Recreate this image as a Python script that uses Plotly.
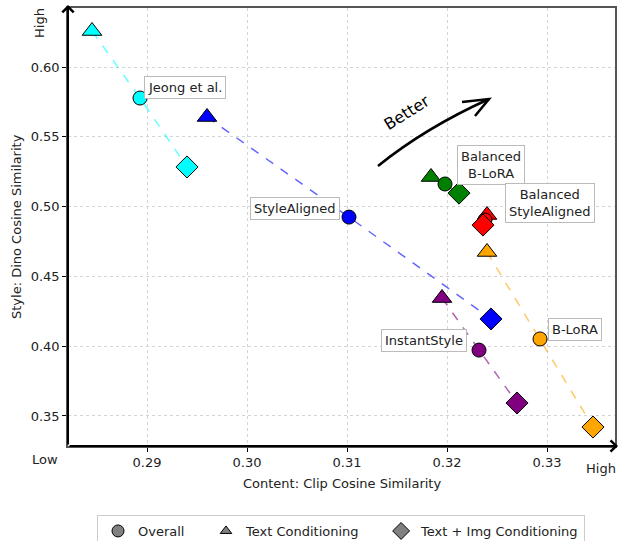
import plotly.graph_objects as go

# Per-method results: (content CLIP similarity, style DINO similarity)
methods = ["Jeong et al.", "StyleAligned", "Balanced B-LoRA", "Balanced StyleAligned", "B-LoRA", "InstantStyle"]
colors = ["#00FFFF", "#0000FF", "#008000", "#FF0000", "#FFA500", "#800080"]

text_x = [0.2845, 0.2960, 0.3184, 0.3240, 0.3240, 0.3195]
text_y = [0.6258, 0.5642, 0.5212, 0.4940, 0.4675, 0.4345]
overall_x = [0.2893, 0.3102, 0.3198, 0.3238, 0.3293, 0.3232]
overall_y = [0.5778, 0.4925, 0.5162, 0.4904, 0.4052, 0.3972]
textimg_x = [0.2940, 0.3244, 0.3212, 0.3236, 0.3346, 0.3270]
textimg_y = [0.5284, 0.4195, 0.5097, 0.4868, 0.3421, 0.3593]

# Label box centres (data coordinates)
label_x = [0.2938, 0.30475, 0.32435, 0.3303, 0.3328, 0.3177]
label_y = [0.5857, 0.4986, 0.5298, 0.5026, 0.4120, 0.4041]

legend_names = ["Overall", "Text Conditioning", "Text + Img Conditioning"]
legend_symbols = ["circle", "triangle-up", "diamond"]
legend_sizes = [12, 10, 13]

x_ticks = [0.29, 0.30, 0.31, 0.32, 0.33]
y_ticks = [0.35, 0.40, 0.45, 0.50, 0.55, 0.60]
x_range = [0.2821, 0.3368]
y_range = [0.3285, 0.6423]

FONT = "DejaVu Sans"
W, H = 619, 541
ML, MR, MT, MB = 68, 4, 8, 95
PW, PH = W - ML - MR, H - MT - MB
PAD = "\u00a0" * 4  # extra room between legend entries

fig = go.Figure()

for i, m in enumerate(methods):
    c = colors[i]
    fig.add_trace(go.Scatter(
        x=[text_x[i], overall_x[i], textimg_x[i]],
        y=[text_y[i], overall_y[i], textimg_y[i]],
        mode="lines", line=dict(color=c, width=1.5, dash="dash"),
        opacity=0.6, showlegend=False, hoverinfo="skip"))
    fig.add_trace(go.Scatter(
        x=[text_x[i]], y=[text_y[i]], mode="markers", showlegend=False,
        marker=dict(symbol="triangle-up", size=17, color=c, line=dict(color="black", width=1))))
    fig.add_trace(go.Scatter(
        x=[overall_x[i]], y=[overall_y[i]], mode="markers", showlegend=False,
        marker=dict(symbol="circle", size=14, color=c, line=dict(color="black", width=1))))
    fig.add_trace(go.Scatter(
        x=[textimg_x[i]], y=[textimg_y[i]], mode="markers", showlegend=False,
        marker=dict(symbol="diamond", size=17, color=c, line=dict(color="black", width=1))))

# Legend entries (gray shapes)
for k, (name, sym) in enumerate(zip(legend_names, legend_symbols)):
    fig.add_trace(go.Scatter(
        x=[None], y=[None], mode="markers", name=name + (PAD if k < 2 else ""),
        marker=dict(symbol=sym, size=legend_sizes[k], color="#808080",
                    line=dict(color="black", width=1))))

annotations = []
for i, m in enumerate(methods):
    annotations.append(dict(
        x=label_x[i], y=label_y[i], xref="x", yref="y", text=m.replace("Balanced ", "Balanced<br>"),
        showarrow=False, xanchor="center", yanchor="middle",
        font=dict(family=FONT, size=13, color="#222"),
        bgcolor="white", bordercolor="#bbbbbb", borderwidth=1, borderpad=3))

# Axis arrows
annotations.append(dict(x=0, y=1 + 3 / PH, xref="paper", yref="paper", ax=0, ay=PH + 3,
                        axref="pixel", ayref="pixel", text="", showarrow=True,
                        arrowhead=4, arrowsize=1.1, arrowwidth=2, arrowcolor="black"))
annotations.append(dict(x=1 + 3 / PW, y=0, xref="paper", yref="paper", ax=-(PW + 3), ay=0,
                        axref="pixel", ayref="pixel", text="", showarrow=True,
                        arrowhead=4, arrowsize=1.1, arrowwidth=2, arrowcolor="black"))

def px(xp, yp):
    return (xp - ML) / PW, 1 - (yp - MT) / PH

def free_text(xp, yp, text, angle=0, size=13, color="#222"):
    xx, yy = px(xp, yp)
    return dict(x=xx, y=yy, xref="paper", yref="paper", text=text, showarrow=False,
                xanchor="center", yanchor="middle", textangle=angle,
                font=dict(family=FONT, size=size, color=color))

# Axis titles and Low/High hints
annotations.append(free_text(342, 483, "Content: Clip Cosine Similarity"))
annotations.append(free_text(16, 227, "Style: Dino Cosine Similarity", angle=-90))
annotations.append(free_text(39, 23, "High", angle=-90))
annotations.append(free_text(45, 459, "Low"))
annotations.append(free_text(601, 469, "High"))
annotations.append(free_text(407, 113, "Better", angle=-32, size=16, color="black"))

# Curved "Better" arrow
p0 = px(378, 166); pc = px(425, 128); p1 = px(489, 99)
a1 = px(462, 102); a2 = px(475, 116)
shapes = [
    dict(type="path", xref="paper", yref="paper",
         path=f"M {p0[0]},{p0[1]} Q {pc[0]},{pc[1]} {p1[0]},{p1[1]}",
         line=dict(color="black", width=2.5)),
    dict(type="path", xref="paper", yref="paper",
         path=f"M {a1[0]},{a1[1]} L {p1[0]},{p1[1]} L {a2[0]},{a2[1]}",
         line=dict(color="black", width=2.5)),
]

axis_common = dict(showgrid=True, gridcolor="#d4d4d4", griddash="dot", gridwidth=1,
                   zeroline=False, showline=True, linecolor="#555555", linewidth=1.5, mirror=True,
                   ticks="outside", ticklen=4, tickcolor="black", tickwidth=1,
                   tickfont=dict(family=FONT, size=13, color="#222"))

fig.update_layout(
    width=W, height=H, margin=dict(l=ML, r=MR, t=MT, b=MB, autoexpand=False),
    paper_bgcolor="white", plot_bgcolor="white",
    xaxis=dict(range=x_range, tickvals=x_ticks, ticktext=[f"{v:.2f}" for v in x_ticks], **axis_common),
    yaxis=dict(range=y_range, tickvals=y_ticks, ticktext=[f"{v:.2f}" for v in y_ticks], **axis_common),
    showlegend=True,
    legend=dict(orientation="h", x=341 / W, xanchor="center", xref="container",
                y=1 - 515 / H, yanchor="top", yref="container",
                bordercolor="#cccccc", borderwidth=1, bgcolor="white",
                font=dict(family=FONT, size=13, color="#222")),
    annotations=annotations, shapes=shapes,
)

fig.write_html("out.html")
